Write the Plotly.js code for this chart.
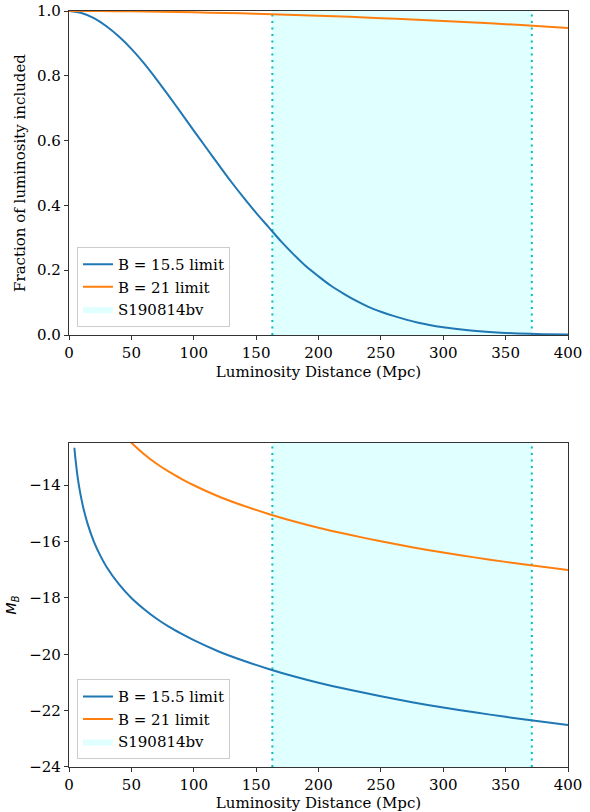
<!DOCTYPE html>
<html>
<head>
<meta charset="utf-8">
<script src="https://cdn.plot.ly/plotly-3.0.1.min.js"></script>
<style>html,body{margin:0;padding:0;background:#fff;}#chart{width:590px;height:812px;}</style>
</head>
<body>
<div id="chart"></div>
<script>
// ---- data ----
const distFrac = [0,10,20,30,40,50,60,70,80,90,100,110,120,130,140,150,160,170,180,190,200,210,220,230,240,250,260,280,300,320,340,360,380,400];
const fracB155 = [1.000,0.994,0.978,0.953,0.921,0.883,0.839,0.790,0.738,0.685,0.631,0.578,0.525,0.473,0.424,0.377,0.333,0.289,0.249,0.212,0.181,0.152,0.128,0.106,0.087,0.072,0.059,0.038,0.024,0.0145,0.0085,0.0048,0.0026,0.0014];
const distFrac21 = [0,25,50,75,100,125,150,175,200,225,250,275,300,325,350,375,400];
const fracB21 = [1.000,0.9997,0.9989,0.9976,0.9960,0.9939,0.9915,0.9886,0.9854,0.9819,0.9780,0.9738,0.9692,0.9644,0.9592,0.9537,0.9479];

const distMag155 = [4.3,5,6,7,8,10,12,15,20,25,30,40,50,60,70,80,90,100,120,140,160,180,200,225,250,275,300,325,350,375,400];
const magB155 = [-12.67,-12.99,-13.39,-13.73,-14.02,-14.50,-14.90,-15.38,-16.01,-16.49,-16.89,-17.51,-18.00,-18.39,-18.73,-19.02,-19.27,-19.50,-19.90,-20.23,-20.52,-20.78,-21.01,-21.26,-21.49,-21.70,-21.89,-22.06,-22.22,-22.37,-22.51];
const distMag21 = [45,50,60,70,80,90,100,120,140,160,180,200,225,250,275,300,325,350,375,400];
const magB21 = [-12.27,-12.49,-12.89,-13.23,-13.52,-13.77,-14.00,-14.40,-14.73,-15.02,-15.28,-15.51,-15.76,-15.99,-16.20,-16.39,-16.56,-16.72,-16.87,-17.01];

const bandDist = [163, 371];          // S190814bv distance range (Mpc)
const seriesNames = ['B = 15.5 limit', 'B = 21 limit', 'S190814bv'];
const xRange = [0, 400];
const fracRange = [0, 1];
const magRange = [-24, -12.5];
const xTicks = [0,50,100,150,200,250,300,350,400];
const fracTicks = [0,0.2,0.4,0.6,0.8,1.0];
const magTicks = [-24,-22,-20,-18,-16,-14];

// ---- styles ----
const BLUE = '#1f77b4', ORANGE = '#ff7f0e', BAND = '#e0ffff', DOT = '#00bfbf';
const AX = '#333333';
const FONT = {family: 'DejaVu Serif', size: 15, color: '#000'};

function band(xa, ya, yr, legend, show) {
  return {x: [bandDist[0], bandDist[1], bandDist[1], bandDist[0], bandDist[0]],
          y: [yr[0], yr[0], yr[1], yr[1], yr[0]],
          xaxis: xa, yaxis: ya, type: 'scatter', mode: 'lines', fill: 'toself',
          fillcolor: BAND, line: {width: 0, color: BAND}, name: seriesNames[2],
          legend: legend, legendrank: 3, showlegend: show, hoverinfo: 'skip'};
}
function vline(xv, xa, ya, yr) {
  return {x: [xv, xv], y: [yr[0], yr[1]], xaxis: xa, yaxis: ya, type: 'scatter', mode: 'lines',
          line: {color: DOT, width: 2, dash: '2px,4.5px'}, showlegend: false, hoverinfo: 'skip'};
}
function curve(x, y, name, color, xa, ya, legend, rank) {
  return {x: x, y: y, xaxis: xa, yaxis: ya, type: 'scatter', mode: 'lines', name: name,
          line: {color: color, width: 2, shape: 'spline', smoothing: 0.8},
          legend: legend, legendrank: rank};
}

const traces = [
  band('x', 'y', fracRange, 'legend', true),
  vline(bandDist[0], 'x', 'y', fracRange),
  vline(bandDist[1], 'x', 'y', fracRange),
  curve(distFrac, fracB155, seriesNames[0], BLUE, 'x', 'y', 'legend', 1),
  curve(distFrac21, fracB21, seriesNames[1], ORANGE, 'x', 'y', 'legend', 2),
  band('x2', 'y2', magRange, 'legend2', true),
  vline(bandDist[0], 'x2', 'y2', magRange),
  vline(bandDist[1], 'x2', 'y2', magRange),
  curve(distMag155, magB155, seriesNames[0], BLUE, 'x2', 'y2', 'legend2', 1),
  curve(distMag21, magB21, seriesNames[1], ORANGE, 'x2', 'y2', 'legend2', 2)
];

const axBase = {showline: true, mirror: true, linecolor: AX, linewidth: 1.2,
  ticks: 'outside', ticklen: 4, tickwidth: 1, tickcolor: AX, showgrid: false,
  zeroline: false, tickfont: FONT, automargin: false, fixedrange: true};

const legendBase = {bgcolor: 'rgba(255,255,255,0.85)', bordercolor: '#cccccc', borderwidth: 1,
  font: {family: 'DejaVu Serif', size: 15, color: '#000'}, xanchor: 'left', yanchor: 'bottom',
  tracegroupgap: 0, itemwidth: 30};

const layout = {
  width: 590, height: 812,
  margin: {l: 69, r: 22, t: 11, b: 45},
  paper_bgcolor: '#fff', plot_bgcolor: '#fff',
  font: FONT,
  showlegend: true,
  xaxis: Object.assign({}, axBase, {domain: [0, 1], range: xRange, tickvals: xTicks, anchor: 'y',
    title: {text: 'Luminosity Distance (Mpc)', font: FONT, standoff: 5}}),
  yaxis: Object.assign({}, axBase, {domain: [0.5714, 1], range: fracRange, tickvals: fracTicks,
    tickformat: '.1f', anchor: 'x',
    title: {text: 'Fraction of luminosity included', font: FONT, standoff: 7}}),
  xaxis2: Object.assign({}, axBase, {domain: [0, 1], range: xRange, tickvals: xTicks, anchor: 'y2',
    title: {text: 'Luminosity Distance (Mpc)', font: FONT, standoff: 5}}),
  yaxis2: Object.assign({}, axBase, {domain: [0, 0.4286], range: magRange, tickvals: magTicks, anchor: 'x2',
    title: {text: '<i>M</i><sub><i>B</i></sub>', font: {family: 'DejaVu Sans', size: 14, color: '#000'}, standoff: 9}}),
  legend: Object.assign({}, legendBase, {x: 0.016, y: 0.582}),
  legend2: Object.assign({}, legendBase, {x: 0.016, y: 0.0102})
};

Plotly.newPlot('chart', traces, layout, {staticPlot: true, displayModeBar: false});
</script>
</body>
</html>
